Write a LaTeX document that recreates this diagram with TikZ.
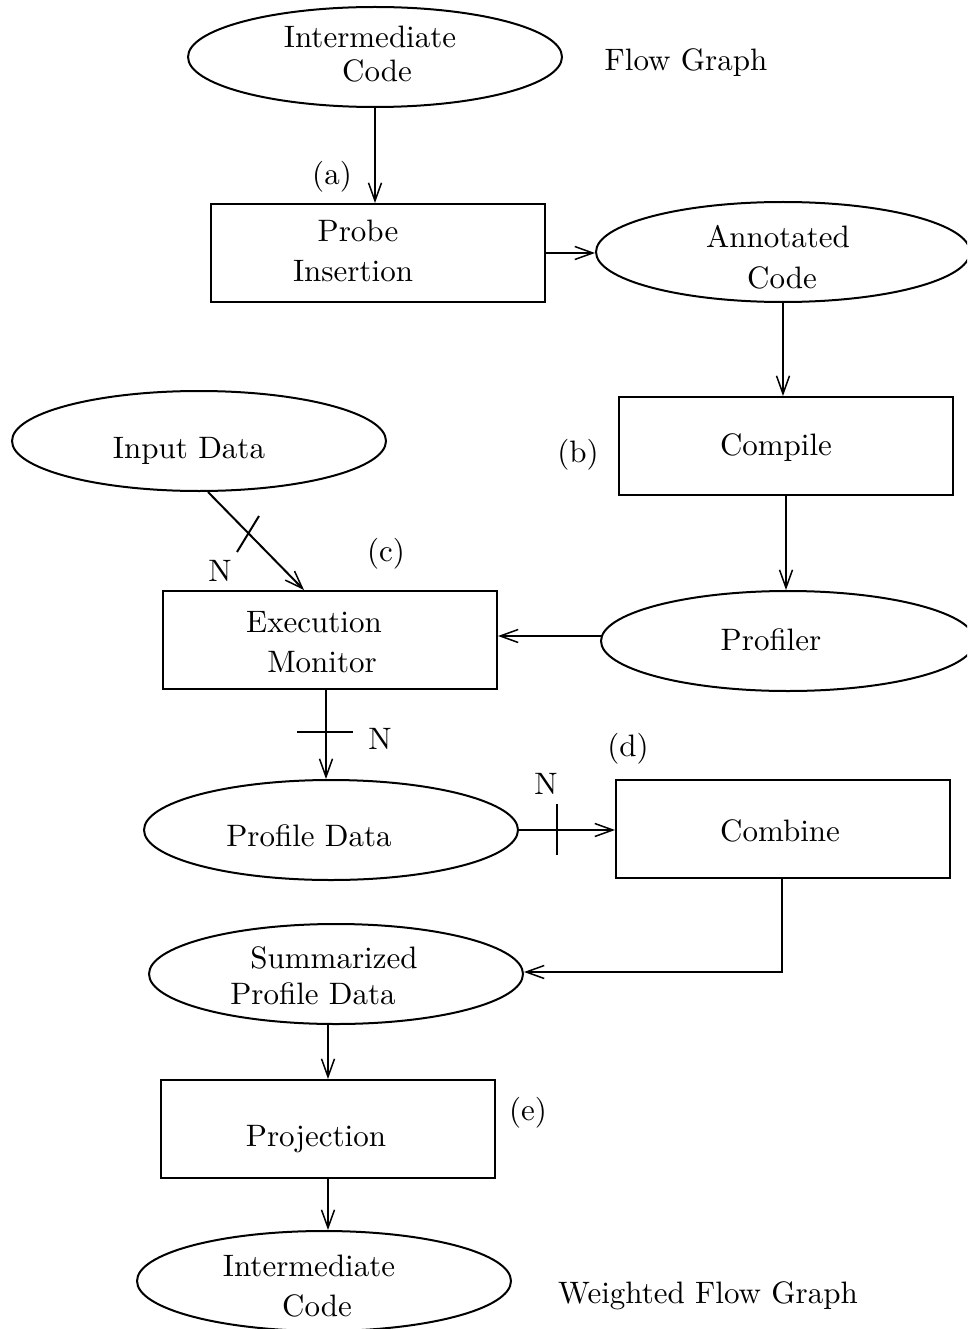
\documentclass[tikz,border=0pt]{standalone}
\usetikzlibrary{shapes.geometric,arrows.meta,calc}
% text is set at 10pt and enlarged, keeping the 10pt design
\newcommand\bigt[1]{\scalebox{3.1}{#1}}
\begin{document}
\begin{tikzpicture}[x=1pt,y=-1pt,
  line width=2pt,
  arr/.style={-{Straight Barb[length=18pt,width=13pt,line width=1.5pt]}},
  oval/.style={draw,ellipse,minimum width=374pt,minimum height=100pt,inner sep=0pt},
  box/.style={draw,rectangle,minimum width=334pt,minimum height=98pt,inner sep=0pt},
  txt/.style={inner sep=0pt,anchor=base,font=\fontsize{10}{12}\selectfont}]
\clip (0,0) rectangle (967,1329);

% shapes
\node[oval] (ic1)   at (375,57)   {};
\node[box]  (probe) at (378,253)  {};
\node[oval] (ann)   at (783,252)  {};
\node[oval] (inp)   at (199,441)  {};
\node[box]  (comp)  at (786,446)  {};
\node[box]  (exe)   at (330,640)  {};
\node[oval] (prof)  at (788,641)  {};
\node[oval] (pd)    at (331,830)  {};
\node[box]  (comb)  at (783,829)  {};
\node[oval] (sum)   at (336,974)  {};
\node[box]  (proj)  at (328,1129) {};
\node[oval] (ic2)   at (324,1281) {};

% texts
\node[txt] (t1a) at (370,48)  {\bigt{Intermediate}};
\node[txt] (t1b) at (377,82)  {\bigt{Code}};
\node[txt] (fg)  at (686,71)  {\bigt{Flow Graph}};
\node[txt] (la)  at (332,185) {\bigt{(a)}};
\node[txt] (t2a) at (358,242) {\bigt{Probe}};
\node[txt] (t2b) at (353,282) {\bigt{Insertion}};
\node[txt] (t3a) at (778,248) {\bigt{Annotated}};
\node[txt] (t3b) at (782,288) {\bigt{Code}};
\node[txt] (t4)  at (189,458) {\bigt{Input Data}};
\node[txt] (t5)  at (776,455) {\bigt{Compile}};
\node[txt] (lb)  at (578,462) {\bigt{(b)}};
\node[txt] (lc)  at (386,561) {\bigt{(c)}};
\node[txt] (n1)  at (220,581) {\bigt{N}};
\node[txt] (t6a) at (314,632) {\bigt{Execution}};
\node[txt] (t6b) at (322,672) {\bigt{Monitor}};
\node[txt] (t7)  at (771,650) {\bigt{Profiler}};
\node[txt] (n2)  at (380,749) {\bigt{N}};
\node[txt] (ld)  at (628,756) {\bigt{(d)}};
\node[txt] (n3)  at (546,794) {\bigt{N}};
\node[txt] (t8)  at (309,846) {\bigt{Profile Data}};
\node[txt] (t9)  at (780,841) {\bigt{Combine}};
\node[txt] (t10a) at (334,968) {\bigt{Summarized}};
\node[txt] (t10b) at (313,1004) {\bigt{Profile Data}};
\node[txt] (le)  at (528,1120) {\bigt{(e)}};
\node[txt] (t11) at (316,1146) {\bigt{Projection}};
\node[txt] (t12a) at (309,1276) {\bigt{Intermediate}};
\node[txt] (t12b) at (317,1316) {\bigt{Code}};
\node[txt] (wfg) at (708,1303) {\bigt{Weighted Flow Graph}};

% connectors
\coordinate (pw) at ($(prof.west)+(1,-5)$);
\draw[arr] (ic1.south) -- (ic1.south |- probe.north);
\draw[arr] (probe.east) -- (probe.east -| ann.west);
\draw[arr] (ann.south) -- (ann.south |- comp.north);
\draw[arr] (comp.south) -- (comp.south |- prof.north);
\draw[arr] (pw) -- (pw -| exe.east);
\draw[arr] ($(inp.south)+(9,0)$) -- ($(exe.north west)+(142,0)$);
\draw[arr] ($(exe.south)+(-4,0)$) -- ($(pd.north)+(-5,0)$);
\draw[arr] (pd.east) -- (pd.east -| comb.west);
\draw[arr] ($(comb.south)+(-1,0)$) |- ($(sum.east)+(0,-2)$);
\draw[arr] (proj.north |- sum.south) -- (proj.north);
\draw[arr] (proj.south) -- (proj.south |- ic2.north);

% cross ticks marking the N-fold flows
\draw (237,552) -- (259,516);
\draw (297,732) -- (353,732);
\draw (557,804) -- (557,855);
\end{tikzpicture}
\end{document}
